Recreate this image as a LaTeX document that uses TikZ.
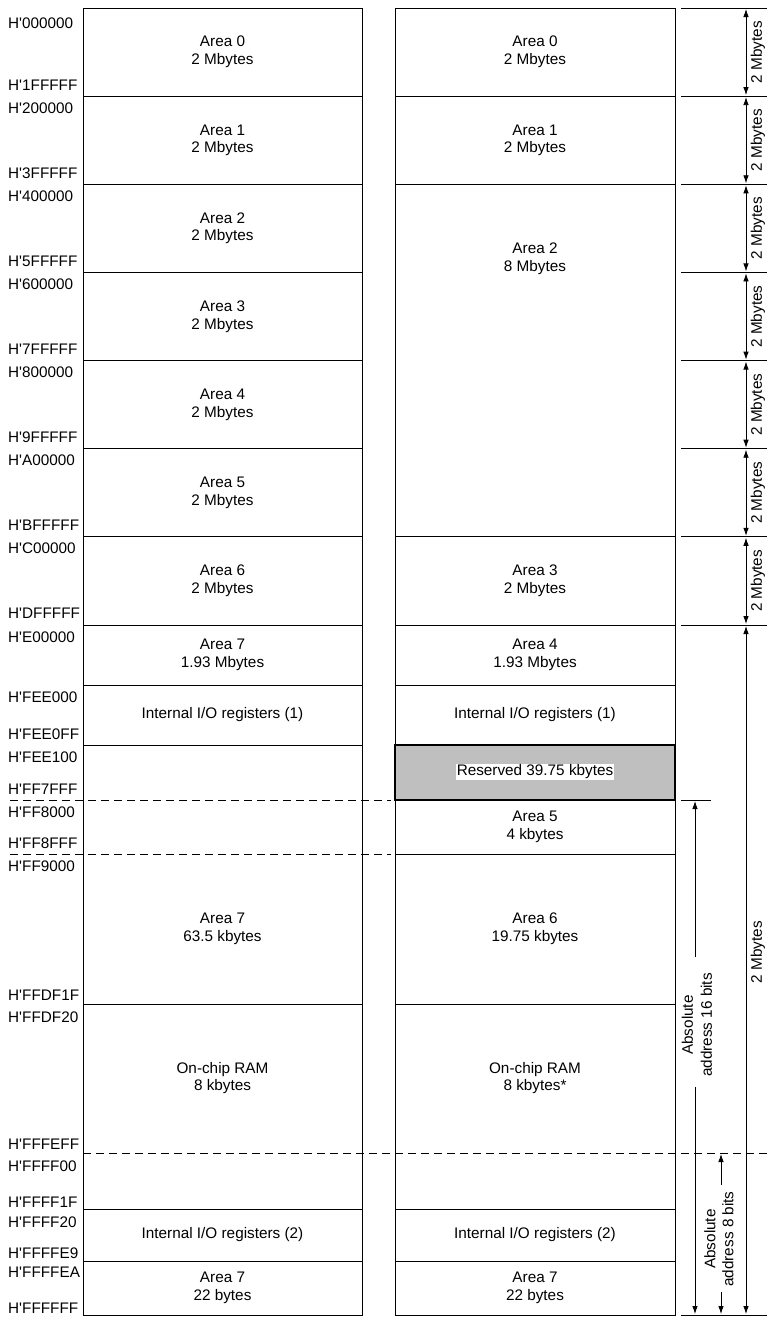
\documentclass[tikz,border=0pt]{standalone}
\usepackage{fontspec}
\setmainfont{Liberation Sans}
\usetikzlibrary{arrows.meta}
\newcommand{\hq}{H\textquotesingle}
\begin{document}
\begin{tikzpicture}[x=1pt,y=-1pt,
  font=\fontsize{15.3}{17.6}\selectfont,
  boxline/.style={line width=1pt},
  dashln/.style={line width=1pt, dash pattern=on 8pt off 5pt},
  lbl/.style={align=center, inner sep=0pt},
  addr/.style={anchor=base west, inner sep=0pt},
  rlbl/.style={rotate=90, align=center, inner sep=0pt},
  tick/.style={line width=1pt},
  dimarr/.style={line width=0.8pt, {Latex[length=8pt,width=5.5pt]}-{Latex[length=8pt,width=5.5pt]}},
  onearr/.style={line width=0.8pt, -{Latex[length=8pt,width=5.5pt]}}]
\useasboundingbox (0,0) rectangle (767,1317);
% ---- columns
\def\Lx{83}\def\Rx{362}\def\lx{395}\def\rx{675}
% gray reserved block
\fill[gray!50] (\lx,745) rectangle (\rx,800);
\draw[line width=1.8pt] (\lx,745) rectangle (\rx,800);
\draw[boxline] (\Lx,8) rectangle (\Rx,1315);
\draw[boxline] (\lx,8) rectangle (\rx,1315);
% left solid lines
\foreach \y in {96.1,184.3,272.4,360.6,448.7,536.8,625,685,745,1004,1209,1261}
  \draw[boxline] (\Lx,\y) -- (\Rx,\y);
% right solid lines
\foreach \y in {96.1,184.3,536.8,625,685,854,1004,1209,1261}
  \draw[boxline] (\lx,\y) -- (\rx,\y);
% dashed lines
\draw[dashln] (10,800) -- (391,800);
\draw[dashln] (10,854) -- (391,854);
\draw[dashln] (83,1153) -- (767,1153);
% ---- left texts
\node[lbl] (l0) at (222.5,52) {Area 0\\2 Mbytes};
\node[lbl] (l1) at (222.5,140.2) {Area 1\\2 Mbytes};
\node[lbl] (l2) at (222.5,228.3) {Area 2\\2 Mbytes};
\node[lbl] (l3) at (222.5,316.5) {Area 3\\2 Mbytes};
\node[lbl] (l4) at (222.5,404.6) {Area 4\\2 Mbytes};
\node[lbl] (l5) at (222.5,492.8) {Area 5\\2 Mbytes};
\node[lbl] (l6) at (222.5,581) {Area 6\\2 Mbytes};
\node[lbl] (l7) at (222.5,655) {Area 7\\1.93 Mbytes};
\node[lbl] (lio1) at (222.5,715) {Internal I/O registers (1)};
\node[lbl] (l7b) at (222.5,929) {Area 7\\63.5 kbytes};
\node[lbl] (lram) at (222.5,1078) {On-chip RAM\\8 kbytes};
\node[lbl] (lio2) at (222.5,1235) {Internal I/O registers (2)};
\node[lbl] (l7c) at (222.5,1288) {Area 7\\22 bytes};
% ---- right texts
\node[lbl] (r0) at (535,52) {Area 0\\2 Mbytes};
\node[lbl] (r1) at (535,140.2) {Area 1\\2 Mbytes};
\node[lbl] (r2) at (535,259) {Area 2\\8 Mbytes};
\node[lbl] (r3) at (535,581) {Area 3\\2 Mbytes};
\node[lbl] (r4) at (535,655) {Area 4\\1.93 Mbytes};
\node[lbl] (rio1) at (535,715) {Internal I/O registers (1)};
\node[lbl, fill=white, inner sep=1pt] (rres) at (535,772) {Reserved 39.75 kbytes};
\node[lbl] (r5) at (535,827) {Area 5\\4 kbytes};
\node[lbl] (r6) at (535,929) {Area 6\\19.75 kbytes};
\node[lbl] (rram) at (535,1078) {On-chip RAM\\8 kbytes*};
\node[lbl] (rio2) at (535,1235) {Internal I/O registers (2)};
\node[lbl] (r7) at (535,1288) {Area 7\\22 bytes};
% ---- addresses
\node[addr] (a1) at (8,28) {\hq000000};
\node[addr] (a2) at (8,90) {\hq1FFFFF};
\node[addr] (a3) at (8,113) {\hq200000};
\node[addr] (a4) at (8,178) {\hq3FFFFF};
\node[addr] (a5) at (8,201) {\hq400000};
\node[addr] (a6) at (8,266) {\hq5FFFFF};
\node[addr] (a7) at (8,289) {\hq600000};
\node[addr] (a8) at (8,354) {\hq7FFFFF};
\node[addr] (a9) at (8,377) {\hq800000};
\node[addr] (a10) at (8,442) {\hq9FFFFF};
\node[addr] (a11) at (8,465) {\hq A00000};
\node[addr] (a12) at (8,530) {\hq BFFFFF};
\node[addr] (a13) at (8,553) {\hq C00000};
\node[addr] (a14) at (8,618) {\hq DFFFFF};
\node[addr] (a15) at (8,642) {\hq E00000};
\node[addr] (a16) at (8,702) {\hq FEE000};
\node[addr] (a17) at (8,739) {\hq FEE0FF};
\node[addr] (a18) at (8,762) {\hq FEE100};
\node[addr] (a19) at (8,794) {\hq FF7FFF};
\node[addr] (a20) at (8,817) {\hq FF8000};
\node[addr] (a21) at (8,848) {\hq FF8FFF};
\node[addr] (a22) at (8,871) {\hq FF9000};
\node[addr] (a23) at (8,1000) {\hq FFDF1F};
\node[addr] (a24) at (8,1022) {\hq FFDF20};
\node[addr] (a25) at (8,1149) {\hq FFFEFF};
\node[addr] (a26) at (8,1171) {\hq FFFF00};
\node[addr] (a27) at (8,1207) {\hq FFFF1F};
\node[addr] (a28) at (8,1227) {\hq FFFF20};
\node[addr] (a29) at (8,1258) {\hq FFFFE9};
\node[addr] (a30) at (8,1277) {\hq FFFFEA};
\node[addr] (a31) at (8,1313) {\hq FFFFFF};
% ---- right dimension ticks
\foreach \y in {8,96.1,184.3,272.4,360.6,448.7,536.8,625}
  \draw[tick] (681,\y) -- (767,\y);
\draw[tick] (681,1315) -- (767,1315);
\draw[tick] (681,800) -- (711,800);
% short 2 Mbytes arrows
\foreach \a/\b [count=\i] in {8/96.1,96.1/184.3,184.3/272.4,272.4/360.6,360.6/448.7,448.7/536.8,536.8/625}{
  \coordinate (s\i) at (746,\a+1);
  \coordinate (e\i) at (746,\b-1);
  \draw[dimarr] (s\i) -- (e\i);
  \node[rlbl] (m\i) at (758,{(\a+\b)/2}) {2 Mbytes};
}
% long 2 Mbytes arrow
\coordinate (ls) at (746,626);
\coordinate (le) at (746,1314);
\draw[dimarr] (ls) -- (le);
\node[rlbl] (mlong) at (758,952) {2 Mbytes};
% absolute 16 bits
\node[rlbl, font=\fontsize{15.3}{19}\selectfont] (ab16) at (697,1025) {Absolute\\address 16 bits};
\coordinate (t16) at (695,801);
\coordinate (b16) at (695,1314);
\coordinate (u16) at (695,957);
\coordinate (d16) at (695,1087);
\draw[onearr] (u16) -- (t16);
\draw[onearr] (d16) -- (b16);
% absolute 8 bits
\node[rlbl, font=\fontsize{15.3}{18}\selectfont] (ab8) at (719,1239) {Absolute\\address 8 bits};
\coordinate (t8) at (721,1154);
\coordinate (b8) at (721,1314);
\coordinate (u8) at (721,1185);
\coordinate (d8) at (721,1292);
\draw[onearr] (u8) -- (t8);
\draw[onearr] (d8) -- (b8);
\end{tikzpicture}
\end{document}
